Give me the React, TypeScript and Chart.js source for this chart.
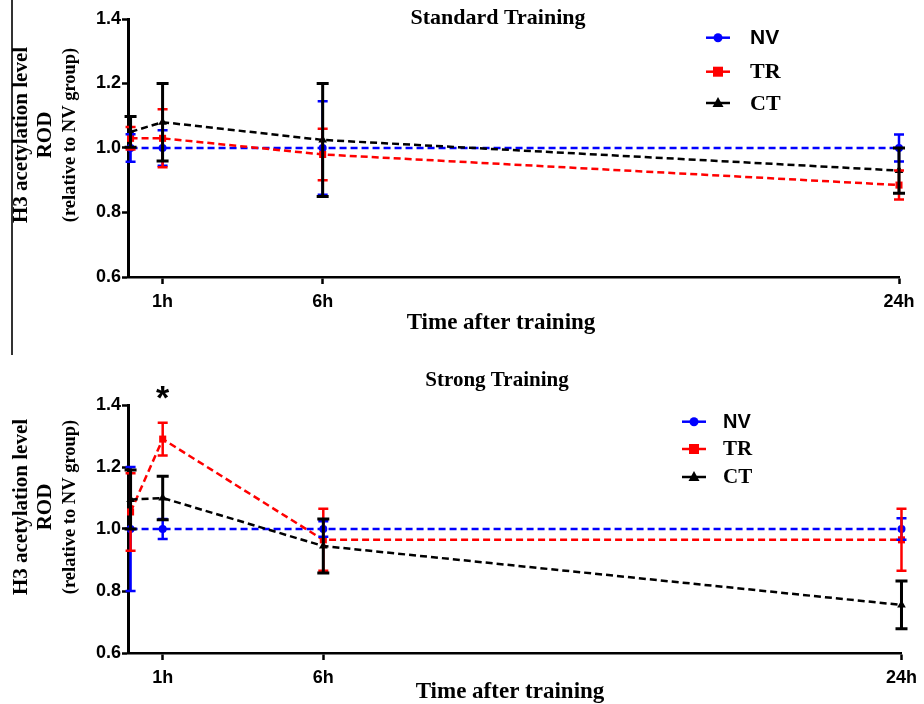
import React, { useEffect, useRef } from "react";
import { Chart, registerables } from "chart.js";

Chart.register(...registerables);

// ---------- data ----------
const times = [0, 1, 6, 24];
const xTickValues = [1, 6, 24];
const xTickLabels = ["1h", "6h", "24h"];
const yMin = 0.6;
const yMax = 1.4;
const yStep = 0.2;

const seriesNames = ["NV", "TR", "CT"];
const seriesColors = ["#0000ff", "#ff0000", "#000000"];
const seriesMarkers = ["circle", "rect", "triangle"];

// Standard training
const stdNV = [1.0, 1.0, 1.0, 1.0];
const stdNVErr = [0.043, 0.055, 0.145, 0.042];
const stdTR = [1.03, 1.03, 0.98, 0.885];
const stdTRErr = [0.035, 0.09, 0.08, 0.045];
const stdCT = [1.05, 1.08, 1.025, 0.93];
const stdCTErr = [0.048, 0.12, 0.175, 0.07];

// Strong training
const strNV = [1.0, 1.0, 1.0, 1.0];
const strNVErr = [0.2, 0.032, 0.025, 0.035];
const strTR = [1.055, 1.29, 0.965, 0.965];
const strTRErr = [0.125, 0.053, 0.1, 0.1];
const strCT = [1.095, 1.1, 0.945, 0.755];
const strCTErr = [0.095, 0.07, 0.087, 0.077];

const yTitleLines = ["H3 acetylation level", "ROD", "(relative to NV group)"];
const xTitleText = "Time after training";

const SERIF = "'Liberation Serif', 'Times New Roman', serif";
const SANS = "'Liberation Sans', Arial, sans-serif";

type PanelCfg = {
  title: string;
  titleSize: number;
  titleX: number;
  titleY: number;
  means: number[][];
  errs: number[][];
  height: number;
  chartTop: number;
  chartBottom: number;
  rightPad: number;
  xTitleX: number;
  xTitleY: number;
  yTitleCY: number;
  legendMarkerX: number;
  legendTextX: number;
  legendYs: number[];
  legendSize: number;
  starAt?: number;
  starY?: number;
};

function drawMarker(ctx: CanvasRenderingContext2D, style: string, x: number, y: number, r: number, color: string) {
  ctx.save();
  ctx.fillStyle = color;
  ctx.beginPath();
  if (style === "circle") {
    ctx.arc(x, y, r, 0, Math.PI * 2);
  } else if (style === "rect") {
    ctx.rect(x - r, y - r, r * 2, r * 2);
  } else {
    ctx.moveTo(x, y - r * 1.2);
    ctx.lineTo(x + r * 1.1, y + r * 0.8);
    ctx.lineTo(x - r * 1.1, y + r * 0.8);
    ctx.closePath();
  }
  ctx.fill();
  ctx.restore();
}

function Panel({ cfg }: { cfg: PanelCfg }) {
  const ref = useRef<HTMLCanvasElement | null>(null);

  useEffect(() => {
    if (!ref.current) return;
    const overlay = {
      id: "overlay",
      afterDatasetsDraw(chart: any) {
        const ctx = chart.ctx as CanvasRenderingContext2D;
        const xs = chart.scales.x;
        const ys = chart.scales.y;
        cfg.means.forEach((arr, si) => {
          ctx.save();
          ctx.strokeStyle = seriesColors[si];
          ctx.lineWidth = si === 2 ? 3 : 2.5;
          ctx.setLineDash([]);
          const cap = si === 2 ? 6 : 5;
          arr.forEach((m, i) => {
            const e = cfg.errs[si][i];
            const px = xs.getPixelForValue(times[i]);
            const t = ys.getPixelForValue(m + e);
            const b = ys.getPixelForValue(m - e);
            ctx.beginPath();
            ctx.moveTo(px, t);
            ctx.lineTo(px, b);
            ctx.moveTo(px - cap, t);
            ctx.lineTo(px + cap, t);
            ctx.moveTo(px - cap, b);
            ctx.lineTo(px + cap, b);
            ctx.stroke();
          });
          ctx.restore();
        });
      },
      afterDraw(chart: any) {
        const ctx = chart.ctx as CanvasRenderingContext2D;
        ctx.save();
        ctx.fillStyle = "#000";
        ctx.textAlign = "center";
        ctx.textBaseline = "middle";
        // title
        ctx.font = `bold ${cfg.titleSize}px ${SERIF}`;
        ctx.fillText(cfg.title, cfg.titleX, cfg.titleY);
        // x title
        ctx.font = `bold 23px ${SERIF}`;
        ctx.fillText(xTitleText, cfg.xTitleX, cfg.xTitleY);
        // y title
        const yx = [22, 46, 70];
        const ysz = [21, 21, 18.5];
        yTitleLines.forEach((line, i) => {
          ctx.save();
          ctx.translate(yx[i], cfg.yTitleCY);
          ctx.rotate(-Math.PI / 2);
          ctx.font = `bold ${ysz[i]}px ${SERIF}`;
          ctx.fillText(line, 0, 0);
          ctx.restore();
        });
        // legend
        seriesNames.forEach((name, i) => {
          const y = cfg.legendYs[i];
          ctx.save();
          ctx.strokeStyle = seriesColors[i];
          ctx.lineWidth = 2.5;
          ctx.beginPath();
          ctx.moveTo(cfg.legendMarkerX - 12, y);
          ctx.lineTo(cfg.legendMarkerX + 12, y);
          ctx.stroke();
          ctx.restore();
          drawMarker(ctx, seriesMarkers[i], cfg.legendMarkerX, y, i === 0 ? 4.5 : 5, seriesColors[i]);
          ctx.textAlign = "left";
          ctx.font = i === 0 ? `bold ${cfg.legendSize}px ${SANS}` : `bold ${cfg.legendSize + 1}px ${SERIF}`;
          ctx.fillStyle = "#000";
          ctx.fillText(name, cfg.legendTextX, y + 1);
        });
        // significance star
        if (cfg.starAt !== undefined && cfg.starY !== undefined) {
          const sx = chart.scales.x.getPixelForValue(cfg.starAt);
          ctx.textAlign = "center";
          ctx.textBaseline = "alphabetic";
          ctx.font = `bold 34px ${SANS}`;
          ctx.fillText("*", sx, cfg.starY + 17);
        }
        ctx.restore();
      },
    };

    const datasets = seriesNames.map((name, si) => ({
      label: name,
      data: times.map((t, i) => ({ x: t, y: cfg.means[si][i] })),
      borderColor: seriesColors[si],
      backgroundColor: seriesColors[si],
      borderWidth: 2.5,
      borderDash: [7, 4],
      pointStyle: seriesMarkers[si],
      pointRadius: si === 0 ? 4 : 5,
      pointBorderWidth: 0,
      tension: 0,
      clip: false as any,
      order: 2 - si,
    }));

    const chart = new Chart(ref.current, {
      type: "line",
      data: { datasets },
      plugins: [overlay],
      options: {
        animation: false,
        responsive: false,
        maintainAspectRatio: false,
        layout: { padding: { top: cfg.chartTop, right: cfg.rightPad, left: 0, bottom: 0 } },
        plugins: { legend: { display: false }, tooltip: { enabled: false }, title: { display: false } },
        scales: {
          x: {
            type: "linear",
            min: -0.08,
            max: 24,
            offset: false,
            afterBuildTicks: (scale: any) => {
              scale.ticks = xTickValues.map((v) => ({ value: v }));
            },
            afterFit: (scale: any) => {
              scale.height = cfg.height - cfg.chartBottom;
            },
            ticks: {
              color: "#000",
              font: { family: SANS, size: 18, weight: "bold" },
              padding: 7,
              maxRotation: 0,
              autoSkip: false,
              callback: (v: any) => {
                const idx = xTickValues.indexOf(Number(v));
                return idx >= 0 ? xTickLabels[idx] : "";
              },
            },
            grid: { display: true, drawOnChartArea: false, drawTicks: true, tickLength: 7, tickColor: "#000", tickWidth: 2.5 },
            border: { display: true, color: "#000", width: 2.5 },
          },
          y: {
            type: "linear",
            min: yMin,
            max: yMax,
            afterFit: (scale: any) => {
              scale.width = 128;
            },
            ticks: {
              stepSize: yStep,
              color: "#000",
              font: { family: SANS, size: 18, weight: "bold" },
              padding: 1,
              callback: (v: any) => Number(v).toFixed(1),
            },
            grid: { display: true, drawOnChartArea: false, drawTicks: true, tickLength: 6, tickColor: "#000", tickWidth: 2.5 },
            border: { display: true, color: "#000", width: 3 },
          },
        },
      } as any,
    });
    return () => chart.destroy();
  }, [cfg]);

  return <canvas ref={ref} width={924} height={cfg.height} style={{ display: "block", width: 924, height: cfg.height }} />;
}

const topCfg: PanelCfg = {
  title: "Standard Training",
  titleSize: 22,
  titleX: 498,
  titleY: 18,
  means: [stdNV, stdTR, stdCT],
  errs: [stdNVErr, stdTRErr, stdCTErr],
  height: 350,
  chartTop: 19,
  chartBottom: 277,
  rightPad: 25,
  xTitleX: 501,
  xTitleY: 323,
  yTitleCY: 135,
  legendMarkerX: 718,
  legendTextX: 750,
  legendYs: [37.7, 71.7, 103],
  legendSize: 21,
};

const bottomCfg: PanelCfg = {
  title: "Strong Training",
  titleSize: 21,
  titleX: 497,
  titleY: 31,
  means: [strNV, strTR, strCT],
  errs: [strNVErr, strTRErr, strCTErr],
  height: 354,
  chartTop: 55,
  chartBottom: 303,
  rightPad: 20,
  xTitleX: 510,
  xTitleY: 342,
  yTitleCY: 157,
  legendMarkerX: 694,
  legendTextX: 723,
  legendYs: [71.7, 99, 127],
  legendSize: 20,
  starAt: 1,
  starY: 42,
};

export default function App() {
  return (
    <div style={{ position: "absolute", left: 0, top: 0, width: 924, height: 704, background: "#fff", overflow: "hidden" }}>
      <div style={{ position: "absolute", left: 11, top: 0, width: 1.5, height: 355, background: "#333" }} />
      <div style={{ position: "absolute", left: 0, top: 0 }}>
        <Panel cfg={topCfg} />
      </div>
      <div style={{ position: "absolute", left: 0, top: 350 }}>
        <Panel cfg={bottomCfg} />
      </div>
    </div>
  );
}
